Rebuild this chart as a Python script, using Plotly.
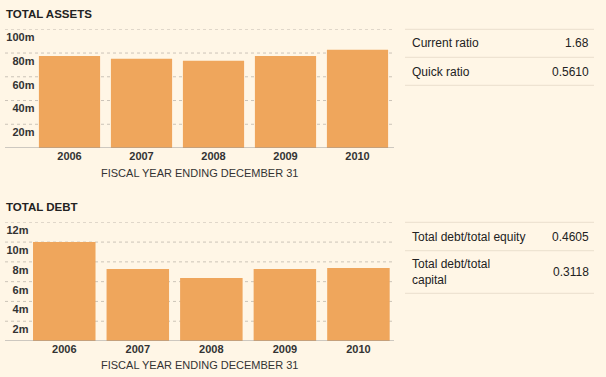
import plotly.graph_objects as go

W, H = 606, 377

# ---- data ----
years = ["2006", "2007", "2008", "2009", "2010"]
assets_m = [77.6, 75.1, 73.4, 77.6, 82.7]
debt_m = [10.0, 7.28, 6.38, 7.28, 7.38]
assets_ticks = [20, 40, 60, 80, 100]
assets_ticktext = ["20m", "40m", "60m", "80m", "100m"]
debt_ticks = [2, 4, 6, 8, 10, 12]
debt_ticktext = ["2m", "4m", "6m", "8m", "10m", "12m"]
assets_ratio_labels = ["Current ratio", "Quick ratio"]
assets_ratio_values = ["1.68", "0.5610"]
debt_ratio_labels = ["Total debt/total equity", "Total debt/total<br>capital"]
debt_ratio_values = ["0.4605", "0.3118"]
x_title = "FISCAL YEAR ENDING DECEMBER 31"

BG = "#FFF6E6"
BAR = "#EFA65C"
FONT = "Liberation Sans, Arial, sans-serif"
TXT = "#222222"
GRID = "#CCC4B8"
BASE = "#9A9A9A"
ROWLINE = "#EADFCD"


def px_x(p):
    return p / W


def px_y(p):
    return (H - p) / H


fig = go.Figure()
fig.add_trace(go.Bar(x=years, y=assets_m, marker=dict(color=BAR, line=dict(width=0)),
                     xaxis="x", yaxis="y", hoverinfo="skip"))
fig.add_trace(go.Bar(x=years, y=debt_m, marker=dict(color=BAR, line=dict(width=0)),
                     xaxis="x2", yaxis="y2", hoverinfo="skip"))

tickfont_y = dict(family=FONT, size=11, color="#333333", weight="bold")
tickfont_x = dict(family=FONT, size=11, color="#333333", weight="bold")

common_x = dict(type="category", range=[-0.5, 4.5], showgrid=False, zeroline=False,
                showline=False, ticks="", tickfont=tickfont_x, fixedrange=True,
                automargin=False)
common_y = dict(showgrid=False, zeroline=False, showline=False, ticks="",
                tickfont=tickfont_y, ticklabelshift=8, ticklabelstandoff=-2,
                fixedrange=True, automargin=False)

fig.update_layout(
    template="none",
    width=W, height=H, autosize=False,
    margin=dict(l=0, r=0, t=0, b=0, pad=0, autoexpand=False),
    paper_bgcolor=BG, plot_bgcolor="rgba(0,0,0,0)",
    showlegend=False, bargap=0.15,
    font=dict(family=FONT, color=TXT),
    xaxis=dict(domain=[px_x(33.5), px_x(393.5)], anchor="y", **common_x),
    yaxis=dict(domain=[px_y(148), px_y(29.3)], anchor="x", range=[0, 100],
               tickvals=assets_ticks, ticktext=assets_ticktext, **common_y),
    xaxis2=dict(domain=[px_x(27.5), px_x(395.2)], anchor="y2", **common_x),
    yaxis2=dict(domain=[px_y(341), px_y(222.3)], anchor="x2", range=[0, 12],
                tickvals=debt_ticks, ticktext=debt_ticktext, **common_y),
)

shapes = []
# gridlines extended under the tick labels
for v in assets_ticks:
    shapes.append(dict(type="line", xref="paper", yref="y", x0=px_x(5), x1=px_x(394),
                       y0=v, y1=v, line=dict(color=GRID, width=1, dash="dot"), layer="below"))
shapes.append(dict(type="line", xref="paper", yref="y", x0=px_x(5), x1=px_x(394),
                   y0=0, y1=0, line=dict(color=BASE, width=1), layer="above"))
for v in debt_ticks:
    shapes.append(dict(type="line", xref="paper", yref="y2", x0=px_x(5), x1=px_x(394),
                       y0=v, y1=v, line=dict(color=GRID, width=1, dash="dot"), layer="below"))
shapes.append(dict(type="line", xref="paper", yref="y2", x0=px_x(5), x1=px_x(394),
                   y0=0, y1=0, line=dict(color=BASE, width=1), layer="above"))

# table row lines
for yp in [29.3, 57.3, 85.3, 222.3, 250.7, 293.3]:
    shapes.append(dict(type="line", xref="paper", yref="paper", x0=px_x(405), x1=px_x(594),
                       y0=px_y(yp), y1=px_y(yp), line=dict(color=ROWLINE, width=1)))
fig.update_layout(shapes=shapes)

ann = []
ann.append(dict(text="<b>TOTAL ASSETS</b>", x=px_x(4), y=px_y(14), xref="paper", yref="paper",
                xanchor="left", yanchor="middle", showarrow=False,
                font=dict(family=FONT, size=11.5, color=TXT)))
ann.append(dict(text="<b>TOTAL DEBT</b>", x=px_x(4), y=px_y(207), xref="paper", yref="paper",
                xanchor="left", yanchor="middle", showarrow=False,
                font=dict(family=FONT, size=11.5, color=TXT)))
for yc in [172.5, 365]:
    ann.append(dict(text=x_title, x=px_x(199.5), y=px_y(yc), xref="paper", yref="paper",
                    xanchor="center", yanchor="middle", showarrow=False,
                    font=dict(family=FONT, size=11, color="#333333")))

for lab, val, yc in zip(assets_ratio_labels, assets_ratio_values, [43.3, 71.7]):
    ann.append(dict(text=lab, x=px_x(409.5), y=px_y(yc), xref="paper", yref="paper",
                    xanchor="left", yanchor="middle", showarrow=False, align="left",
                    font=dict(family=FONT, size=12, color=TXT)))
    ann.append(dict(text=val, x=px_x(590.5), y=px_y(yc), xref="paper", yref="paper",
                    xanchor="right", yanchor="middle", showarrow=False,
                    font=dict(family=FONT, size=12, color=TXT)))
for lab, val, yc in zip(debt_ratio_labels, debt_ratio_values, [236.7, 271.7]):
    ann.append(dict(text=lab, x=px_x(409.5), y=px_y(yc), xref="paper", yref="paper",
                    xanchor="left", yanchor="middle", showarrow=False, align="left",
                    font=dict(family=FONT, size=12, color=TXT)))
    ann.append(dict(text=val, x=px_x(590.5), y=px_y(yc), xref="paper", yref="paper",
                    xanchor="right", yanchor="middle", showarrow=False,
                    font=dict(family=FONT, size=12, color=TXT)))
fig.update_layout(annotations=ann)

fig.write_html(
    "out.html",
    config={"displayModeBar": False},
    post_script="document.body.style.margin='0';document.body.style.background='%s';" % BG,
)
